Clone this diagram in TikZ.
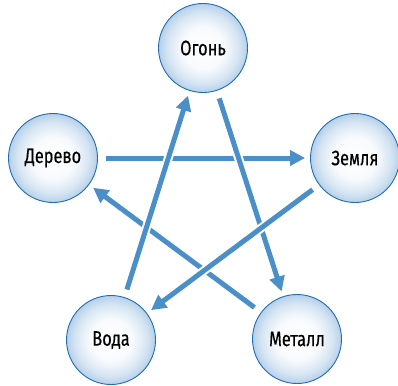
\documentclass[tikz,border=0pt]{standalone}
\usepackage{fontspec}
\setmainfont{Fira Sans}[FakeStretch=0.78, FakeBold=0.4]
\usepackage{tikz}
\usetikzlibrary{
  arrows.meta,
  positioning
}
\definecolor{rimcolor}{HTML}{1F6DB3}
\definecolor{glowcolor}{HTML}{B5D0E9}
\definecolor{arrowcolor}{HTML}{4A8FC7}
\pgfdeclareradialshading{orb}{\pgfpoint{0bp}{0bp}}{%
  color(0bp)=(white); color(12bp)=(white!90!glowcolor);
  color(20bp)=(glowcolor!55!white); color(25bp)=(glowcolor);
  color(50bp)=(glowcolor)}

\begin{document}
\begin{tikzpicture}[
  x=1pt, y=-1pt,
  element/.style={circle, draw=rimcolor, line width=0.9pt, minimum size=89pt,
                  inner sep=0pt, shading=orb,
                  font=\fontsize{21}{24}\selectfont},
  flow/.style={draw=arrowcolor, line width=5pt, shorten <=8pt, shorten >=5pt,
               -{Triangle[length=15pt, width=15pt]},
               preaction={draw=white, line width=9pt, -}}
]
  \useasboundingbox (0,0) rectangle (398,385);

  % the five elements
  \node[element] at (203,48)  (fire)  {Огонь};
  \node[element] at (53,158)  (wood)  {Дерево};
  \node[element] at (355,158) (earth) {Земля};
  \node[element] at (111,340) (water) {Вода};
  \node[element] at (297,339) (metal) {Металл};

  % generating cycle as a star
  \draw[flow] (wood)  -- (earth);
  \draw[flow] (metal) -- (wood);
  \draw[flow] (water) -- (fire);
  \draw[flow] (fire)  -- (metal);
  \draw[flow] (earth) -- (water);

\end{tikzpicture}
\end{document}
